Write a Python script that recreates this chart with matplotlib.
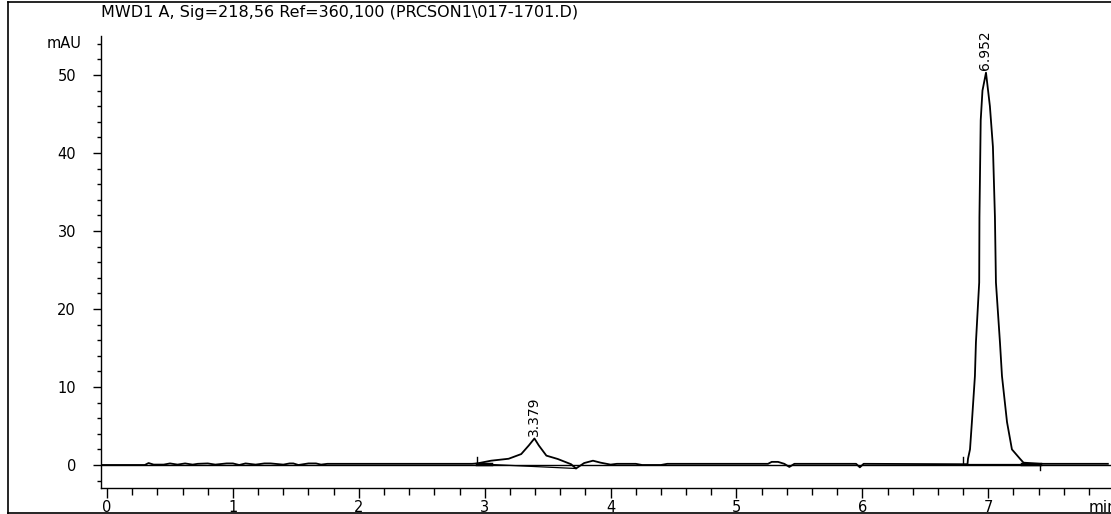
import numpy as np
import matplotlib.pyplot as plt
from matplotlib.lines import Line2D
from matplotlib.ticker import MultipleLocator

plt.rcParams['font.family'] = ['DejaVu Sans']

# chromatogram trace (min, mAU)
trace_t = [-0.05, 0.30, 0.33, 0.37, 0.45, 0.50, 0.56, 0.62, 0.68, 0.72,
           0.80, 0.86, 0.95, 1.00, 1.05, 1.10, 1.18, 1.25, 1.30, 1.40,
           1.45, 1.48, 1.52, 1.60, 1.66, 1.70, 1.75, 2.90,
           2.94, 3.05, 3.19, 3.29, 3.35, 3.395, 3.43, 3.49, 3.58, 3.686,
           3.725, 3.79, 3.86, 3.92, 4.00, 4.05, 4.20, 4.25, 4.40, 4.45,
           4.60, 5.25, 5.28, 5.33, 5.38, 5.42, 5.46, 5.95, 5.98, 6.01,
           6.80, 6.835, 6.839, 6.855, 6.870, 6.894, 6.902, 6.928, 6.930, 6.940,
           6.954, 6.982, 7.013, 7.037, 7.053, 7.061, 7.093, 7.109, 7.149, 7.188,
           7.252, 7.28, 7.41, 7.95]
trace_y = [0.0, 0.0, 0.25, 0.05, 0.05, 0.2, 0.05, 0.2, 0.05, 0.15,
           0.2, 0.05, 0.2, 0.2, 0.0, 0.2, 0.05, 0.2, 0.2, 0.05,
           0.2, 0.2, 0.0, 0.2, 0.2, 0.05, 0.15, 0.15,
           0.2, 0.55, 0.8, 1.4, 2.5, 3.4, 2.5, 1.2, 0.77, 0.1,
           -0.45, 0.25, 0.55, 0.3, 0.05, 0.15, 0.15, 0.0, 0.0, 0.15,
           0.15, 0.15, 0.4, 0.4, 0.15, -0.25, 0.15, 0.15, -0.3, 0.15,
           0.1, 0.1, 0.8, 2.0, 5.5, 11.4, 15.7, 23.4, 31.8, 44.2,
           48.0, 50.3, 46.0, 40.8, 31.8, 23.4, 15.7, 11.4, 5.5, 2.0,
           0.8, 0.3, 0.15, 0.15]

peak_labels = ["3.379", "6.952"]
peak_x = [3.395, 6.975]
peak_top = [3.4, 50.3]

# integration baselines (start, end)
base_t = [[2.94, 3.725], [6.80, 7.41]]
base_y = [[0.15, -0.45], [0.1, 0.1]]

title = "MWD1 A, Sig=218,56 Ref=360,100 (PRCSON1\\017-1701.D)"

fig = plt.figure(figsize=(11.11, 5.14), dpi=100)
W, H = 1111, 514
ax = fig.add_axes([101 / W, 26 / H, (W - 101) / W, (488 - 36) / H])

ax.axhline(0, color='black', lw=1.0)
ax.plot(trace_t, trace_y, color='black', lw=1.3)

for (t0, t1), (y0, y1) in zip(base_t, base_y):
    ax.plot([t0, t1], [y0, y1], color='black', lw=0.9)
    ax.plot([t0, t0], [y0, y0 + 0.9], color='black', lw=1.0)
ax.plot([7.27, 7.41], [0.15, 0.15], color='black', lw=2.5)
ax.plot([2.94, 3.05], [0.1, 0.1], color='black', lw=2.5)
ax.plot([7.41, 7.41], [0.0, -0.6], color='black', lw=1.0)

for x, lab, top in zip(peak_x, peak_labels, peak_top):
    ax.annotate(lab, (x, top), xytext=(0, 2), textcoords='offset points',
                rotation=90, ha='center', va='bottom', fontsize=10)

ax.set_xlim(-0.048, 7.975)
ax.set_ylim(-2.95, 55.0)
for s in ['top', 'right']:
    ax.spines[s].set_visible(False)
ax.spines['left'].set_linewidth(1.0)
ax.spines['bottom'].set_linewidth(1.0)
ax.xaxis.set_major_locator(MultipleLocator(1))
ax.xaxis.set_minor_locator(MultipleLocator(0.2))
ax.yaxis.set_major_locator(MultipleLocator(10))
ax.yaxis.set_minor_locator(MultipleLocator(2))
ax.tick_params(axis='x', which='major', length=7, width=1, pad=2, labelsize=10.5)
ax.tick_params(axis='x', which='minor', length=5, width=1)
ax.tick_params(axis='y', which='major', length=6, width=1, pad=12, labelsize=10.5)
ax.tick_params(axis='y', which='minor', length=3, width=1)

fig.text(101 / W, 1 - 12 / H, title, fontsize=11.5, va='center', ha='left')
fig.text(82 / W, 1 - 44 / H, "mAU", fontsize=10.5, va='center', ha='right')
fig.text(1089 / W, 1 - 508 / H, "min", fontsize=11, va='center', ha='left')

# outer frame
fig.add_artist(Line2D([8 / W, 8 / W], [0.5 / H, 1 - 2 / H], color='black', lw=1.2))
fig.add_artist(Line2D([8 / W, 1], [1 - 2 / H, 1 - 2 / H], color='black', lw=1.2))
fig.add_artist(Line2D([8 / W, 1], [1.0 / H, 1.0 / H], color='black', lw=1.2))

fig.savefig('out.png', dpi=100)
